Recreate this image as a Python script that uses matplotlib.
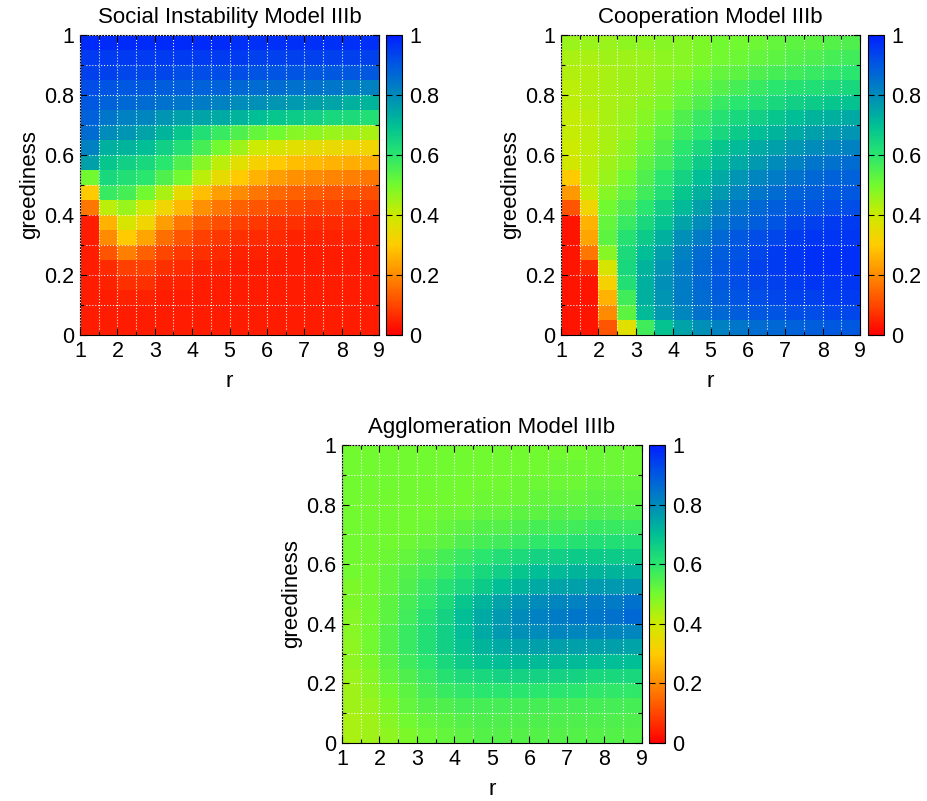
import numpy as np
import matplotlib.pyplot as plt
from matplotlib.colors import LinearSegmentedColormap
from matplotlib.ticker import MultipleLocator

plt.rcParams['font.family'] = ['Liberation Sans', 'DejaVu Sans']

# r bin edges (columns) and greediness bin edges (rows)
r_edges = np.arange(1.0, 9.01, 0.5)
g_edges = np.arange(0.0, 1.001, 0.05)

# rows listed from greediness 0-0.05 (bottom) to 0.95-1 (top)
social = [
    [0.04, 0.04, 0.04, 0.04, 0.04, 0.04, 0.04, 0.04, 0.04, 0.04, 0.04, 0.04, 0.04, 0.04, 0.04, 0.04],
    [0.04, 0.04, 0.04, 0.04, 0.04, 0.04, 0.04, 0.04, 0.04, 0.04, 0.04, 0.04, 0.04, 0.04, 0.04, 0.04],
    [0.04, 0.04, 0.05, 0.05, 0.04, 0.04, 0.04, 0.04, 0.04, 0.04, 0.04, 0.04, 0.04, 0.04, 0.04, 0.04],
    [0.04, 0.05, 0.07, 0.07, 0.05, 0.05, 0.04, 0.04, 0.04, 0.04, 0.04, 0.04, 0.04, 0.04, 0.04, 0.04],
    [0.04, 0.06, 0.09, 0.09, 0.07, 0.06, 0.05, 0.05, 0.04, 0.04, 0.04, 0.04, 0.04, 0.04, 0.04, 0.04],
    [0.04, 0.12, 0.18, 0.14, 0.10, 0.08, 0.07, 0.06, 0.05, 0.05, 0.05, 0.04, 0.04, 0.04, 0.04, 0.04],
    [0.04, 0.20, 0.30, 0.24, 0.16, 0.12, 0.09, 0.08, 0.07, 0.06, 0.06, 0.05, 0.05, 0.05, 0.05, 0.05],
    [0.04, 0.26, 0.38, 0.33, 0.23, 0.17, 0.13, 0.11, 0.09, 0.08, 0.07, 0.07, 0.06, 0.06, 0.06, 0.05],
    [0.17, 0.42, 0.46, 0.40, 0.33, 0.27, 0.21, 0.17, 0.14, 0.12, 0.11, 0.10, 0.09, 0.09, 0.08, 0.08],
    [0.30, 0.58, 0.56, 0.50, 0.44, 0.35, 0.28, 0.23, 0.20, 0.17, 0.15, 0.14, 0.13, 0.12, 0.12, 0.11],
    [0.50, 0.64, 0.62, 0.60, 0.55, 0.50, 0.42, 0.35, 0.30, 0.26, 0.23, 0.21, 0.20, 0.19, 0.18, 0.17],
    [0.76, 0.68, 0.66, 0.64, 0.60, 0.55, 0.48, 0.42, 0.36, 0.32, 0.30, 0.28, 0.27, 0.26, 0.25, 0.25],
    [0.82, 0.73, 0.72, 0.70, 0.66, 0.62, 0.56, 0.50, 0.45, 0.40, 0.38, 0.36, 0.35, 0.34, 0.33, 0.33],
    [0.86, 0.80, 0.78, 0.75, 0.72, 0.68, 0.62, 0.58, 0.55, 0.52, 0.50, 0.48, 0.47, 0.46, 0.45, 0.44],
    [0.88, 0.84, 0.82, 0.81, 0.78, 0.76, 0.75, 0.74, 0.72, 0.70, 0.68, 0.67, 0.66, 0.64, 0.63, 0.62],
    [0.90, 0.88, 0.87, 0.86, 0.85, 0.84, 0.83, 0.82, 0.80, 0.79, 0.78, 0.77, 0.76, 0.75, 0.73, 0.72],
    [0.92, 0.91, 0.90, 0.90, 0.89, 0.89, 0.88, 0.88, 0.87, 0.86, 0.86, 0.85, 0.85, 0.84, 0.83, 0.82],
    [0.94, 0.94, 0.93, 0.93, 0.93, 0.92, 0.92, 0.92, 0.92, 0.91, 0.91, 0.91, 0.90, 0.90, 0.90, 0.90],
    [0.95, 0.95, 0.95, 0.95, 0.95, 0.95, 0.95, 0.95, 0.95, 0.94, 0.94, 0.94, 0.94, 0.94, 0.94, 0.94],
    [0.98, 0.98, 0.98, 0.98, 0.98, 0.98, 0.98, 0.98, 0.97, 0.97, 0.97, 0.97, 0.97, 0.97, 0.97, 0.97],
]

cooperation = [
    [0.03, 0.03, 0.12, 0.36, 0.57, 0.69, 0.75, 0.79, 0.82, 0.84, 0.86, 0.87, 0.88, 0.89, 0.90, 0.90],
    [0.03, 0.03, 0.20, 0.53, 0.71, 0.77, 0.81, 0.85, 0.87, 0.89, 0.90, 0.91, 0.92, 0.92, 0.93, 0.93],
    [0.03, 0.03, 0.26, 0.57, 0.73, 0.78, 0.83, 0.86, 0.89, 0.91, 0.92, 0.93, 0.94, 0.94, 0.95, 0.95],
    [0.03, 0.03, 0.32, 0.62, 0.73, 0.79, 0.83, 0.87, 0.90, 0.92, 0.93, 0.94, 0.95, 0.96, 0.96, 0.96],
    [0.03, 0.06, 0.38, 0.64, 0.72, 0.78, 0.83, 0.87, 0.90, 0.92, 0.94, 0.95, 0.96, 0.97, 0.97, 0.97],
    [0.03, 0.17, 0.48, 0.63, 0.70, 0.76, 0.82, 0.86, 0.89, 0.91, 0.93, 0.95, 0.96, 0.97, 0.97, 0.97],
    [0.03, 0.24, 0.53, 0.61, 0.67, 0.73, 0.79, 0.83, 0.87, 0.90, 0.92, 0.93, 0.95, 0.96, 0.96, 0.96],
    [0.03, 0.26, 0.52, 0.58, 0.64, 0.69, 0.75, 0.80, 0.84, 0.87, 0.89, 0.91, 0.93, 0.94, 0.95, 0.95],
    [0.12, 0.33, 0.50, 0.55, 0.60, 0.66, 0.71, 0.76, 0.81, 0.84, 0.87, 0.89, 0.90, 0.91, 0.92, 0.92],
    [0.22, 0.41, 0.48, 0.52, 0.57, 0.62, 0.68, 0.73, 0.77, 0.81, 0.84, 0.86, 0.88, 0.89, 0.90, 0.90],
    [0.30, 0.42, 0.46, 0.50, 0.55, 0.60, 0.65, 0.70, 0.74, 0.78, 0.81, 0.83, 0.85, 0.87, 0.88, 0.88],
    [0.39, 0.42, 0.45, 0.48, 0.53, 0.57, 0.62, 0.67, 0.71, 0.74, 0.77, 0.80, 0.82, 0.84, 0.85, 0.86],
    [0.40, 0.42, 0.44, 0.47, 0.51, 0.55, 0.60, 0.64, 0.68, 0.71, 0.74, 0.76, 0.78, 0.80, 0.81, 0.82],
    [0.41, 0.42, 0.44, 0.46, 0.49, 0.53, 0.57, 0.60, 0.64, 0.67, 0.70, 0.72, 0.74, 0.76, 0.77, 0.78],
    [0.41, 0.42, 0.44, 0.46, 0.48, 0.51, 0.55, 0.58, 0.61, 0.64, 0.66, 0.68, 0.70, 0.72, 0.73, 0.74],
    [0.42, 0.43, 0.44, 0.45, 0.47, 0.49, 0.52, 0.55, 0.58, 0.60, 0.62, 0.64, 0.66, 0.67, 0.68, 0.69],
    [0.42, 0.43, 0.44, 0.45, 0.46, 0.48, 0.50, 0.52, 0.54, 0.56, 0.58, 0.60, 0.61, 0.62, 0.63, 0.64],
    [0.43, 0.43, 0.44, 0.45, 0.46, 0.47, 0.48, 0.50, 0.52, 0.53, 0.55, 0.56, 0.57, 0.58, 0.59, 0.60],
    [0.44, 0.44, 0.45, 0.45, 0.46, 0.47, 0.48, 0.49, 0.50, 0.51, 0.52, 0.53, 0.54, 0.55, 0.56, 0.57],
    [0.46, 0.46, 0.46, 0.47, 0.47, 0.48, 0.48, 0.49, 0.50, 0.50, 0.51, 0.52, 0.53, 0.53, 0.54, 0.55],
]

agglomeration = [
    [0.44, 0.45, 0.47, 0.49, 0.51, 0.52, 0.53, 0.54, 0.54, 0.54, 0.54, 0.54, 0.54, 0.54, 0.54, 0.54],
    [0.44, 0.45, 0.48, 0.50, 0.52, 0.53, 0.54, 0.55, 0.55, 0.55, 0.55, 0.55, 0.55, 0.55, 0.55, 0.55],
    [0.45, 0.46, 0.49, 0.52, 0.54, 0.55, 0.56, 0.56, 0.56, 0.56, 0.56, 0.56, 0.56, 0.56, 0.56, 0.56],
    [0.45, 0.47, 0.50, 0.53, 0.56, 0.58, 0.59, 0.60, 0.60, 0.60, 0.60, 0.60, 0.60, 0.59, 0.59, 0.59],
    [0.46, 0.48, 0.52, 0.55, 0.58, 0.61, 0.63, 0.64, 0.65, 0.65, 0.65, 0.65, 0.65, 0.64, 0.64, 0.64],
    [0.47, 0.49, 0.53, 0.57, 0.60, 0.64, 0.67, 0.69, 0.70, 0.71, 0.71, 0.71, 0.71, 0.70, 0.70, 0.70],
    [0.47, 0.50, 0.54, 0.58, 0.62, 0.66, 0.69, 0.72, 0.74, 0.75, 0.76, 0.76, 0.76, 0.76, 0.76, 0.75],
    [0.48, 0.50, 0.54, 0.58, 0.62, 0.66, 0.70, 0.74, 0.77, 0.79, 0.80, 0.81, 0.81, 0.81, 0.81, 0.81],
    [0.48, 0.50, 0.53, 0.57, 0.61, 0.65, 0.70, 0.74, 0.77, 0.80, 0.82, 0.83, 0.84, 0.84, 0.85, 0.87],
    [0.49, 0.50, 0.53, 0.56, 0.59, 0.63, 0.68, 0.72, 0.75, 0.78, 0.80, 0.81, 0.82, 0.83, 0.83, 0.85],
    [0.49, 0.50, 0.52, 0.55, 0.58, 0.61, 0.64, 0.67, 0.70, 0.72, 0.74, 0.75, 0.76, 0.77, 0.77, 0.78],
    [0.50, 0.50, 0.52, 0.54, 0.56, 0.58, 0.61, 0.64, 0.66, 0.68, 0.70, 0.71, 0.72, 0.72, 0.72, 0.72],
    [0.50, 0.50, 0.51, 0.52, 0.54, 0.56, 0.58, 0.60, 0.62, 0.63, 0.65, 0.66, 0.67, 0.67, 0.67, 0.67],
    [0.50, 0.50, 0.50, 0.51, 0.52, 0.53, 0.55, 0.56, 0.57, 0.58, 0.59, 0.60, 0.61, 0.62, 0.62, 0.62],
    [0.50, 0.50, 0.50, 0.50, 0.51, 0.52, 0.53, 0.54, 0.54, 0.55, 0.56, 0.56, 0.57, 0.58, 0.58, 0.58],
    [0.50, 0.50, 0.50, 0.50, 0.50, 0.51, 0.51, 0.52, 0.52, 0.53, 0.53, 0.54, 0.54, 0.55, 0.55, 0.55],
    [0.50, 0.50, 0.50, 0.50, 0.50, 0.50, 0.50, 0.51, 0.51, 0.51, 0.52, 0.52, 0.52, 0.53, 0.53, 0.53],
    [0.50, 0.50, 0.50, 0.50, 0.50, 0.50, 0.50, 0.50, 0.50, 0.51, 0.51, 0.51, 0.51, 0.52, 0.52, 0.52],
    [0.50, 0.50, 0.50, 0.50, 0.50, 0.50, 0.50, 0.50, 0.50, 0.50, 0.50, 0.51, 0.51, 0.51, 0.51, 0.51],
    [0.50, 0.50, 0.50, 0.50, 0.50, 0.50, 0.50, 0.50, 0.50, 0.50, 0.50, 0.50, 0.50, 0.51, 0.51, 0.51],
]

titles = ['Social Instability Model IIIb', 'Cooperation Model IIIb', 'Agglomeration Model IIIb']
yticklabels = ['0', '0.2', '0.4', '0.6', '0.8', '1']

# red -> orange -> yellow -> green -> teal -> blue
cmap = LinearSegmentedColormap.from_list('rygb', [
    (0.0, (1.00, 0.00, 0.00)),
    (0.1, (1.00, 0.28, 0.00)),
    (0.2, (1.00, 0.55, 0.00)),
    (0.3, (1.00, 0.80, 0.00)),
    (0.4, (0.80, 0.92, 0.00)),
    (0.5, (0.45, 0.98, 0.18)),
    (0.6, (0.16, 0.90, 0.43)),
    (0.7, (0.00, 0.75, 0.58)),
    (0.8, (0.00, 0.55, 0.73)),
    (0.9, (0.00, 0.35, 0.88)),
    (1.0, (0.00, 0.12, 1.00)),
])

fs = 15.5
fig = plt.figure(figsize=(9.27, 8.01), dpi=100)

# [left, bottom, width, height] for plot and colorbar
boxes = [
    ([0.0863, 0.5818, 0.3226, 0.3745], [0.4164, 0.5818, 0.0173, 0.3745]),
    ([0.6052, 0.5818, 0.3226, 0.3745], [0.9364, 0.5818, 0.0173, 0.3745]),
    ([0.3689, 0.0724, 0.3236, 0.3720], [0.7001, 0.0724, 0.0173, 0.3720]),
]

for data, title, (pb, cb) in zip([social, cooperation, agglomeration], titles, boxes):
    ax = fig.add_axes(pb)
    cax = fig.add_axes(cb)
    mesh = ax.pcolormesh(r_edges, g_edges, np.array(data), cmap=cmap, vmin=0, vmax=1)
    ax.set_xlim(1, 9)
    ax.set_ylim(0, 1)
    ax.xaxis.set_major_locator(MultipleLocator(1))
    ax.xaxis.set_minor_locator(MultipleLocator(0.5))
    ax.yaxis.set_minor_locator(MultipleLocator(0.1))
    ax.set_yticks(np.arange(0, 1.01, 0.2))
    ax.set_yticklabels(yticklabels)
    ax.tick_params(which='both', direction='in', top=True, right=True, labelsize=fs, pad=4)
    ax.tick_params(which='major', length=5, width=0.8)
    ax.tick_params(which='minor', length=3, width=0.8)
    ax.grid(which='both', color='white', linestyle=':', linewidth=0.8, alpha=0.9)
    ax.set_axisbelow(False)
    ax.set_title(title, fontsize=16, pad=9)
    ax.set_xlabel('r', fontsize=16, labelpad=7)
    ax.set_ylabel('greediness', fontsize=16, labelpad=3)

    cbar = fig.colorbar(mesh, cax=cax, ticks=[0, 0.2, 0.4, 0.6, 0.8, 1])
    cbar.ax.set_yticklabels(yticklabels)
    cbar.ax.tick_params(direction='in', length=4, width=0.8, labelsize=fs, left=True, right=True, pad=5)
    cbar.outline.set_linewidth(0.8)

fig.savefig('out.png', dpi=100)
